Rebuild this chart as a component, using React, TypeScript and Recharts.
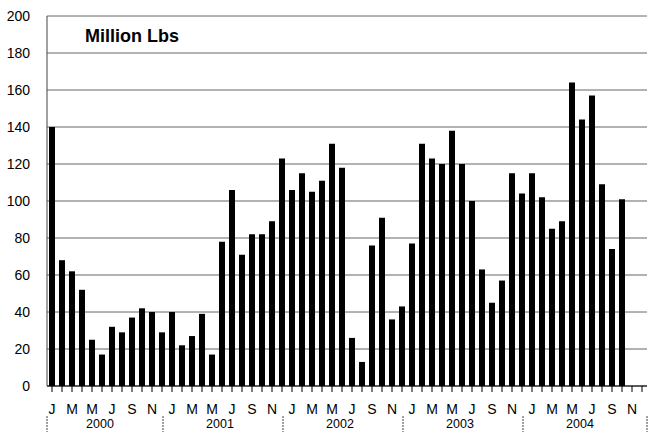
import { BarChart, Bar, XAxis, YAxis, CartesianGrid } from "recharts";

const YEARS = ["2000", "2001", "2002", "2003", "2004"];
const MONTHS = ["J", "F", "M", "A", "M", "J", "J", "A", "S", "O", "N", "D"];

// Million lbs per month, Jan..Dec
const V2000 = [140, 68, 62, 52, 25, 17, 32, 29, 37, 42, 40, 29];
const V2001 = [40, 22, 27, 39, 17, 78, 106, 71, 82, 82, 89, 123];
const V2002 = [106, 115, 105, 111, 131, 118, 26, 13, 76, 91, 36, 43];
const V2003 = [77, 131, 123, 120, 138, 120, 100, 63, 45, 57, 115, 104];
const V2004 = [115, 102, 85, 89, 164, 144, 157, 109, 74, 101, null, null];

const Y_TICKS = [0, 20, 40, 60, 80, 100, 120, 140, 160, 180, 200];

const SERIES = [V2000, V2001, V2002, V2003, V2004];

const data = YEARS.flatMap((yr, yi) =>
  MONTHS.map((m, mi) => ({
    key: `${yr}-${mi + 1}`,
    month: m,
    year: yr,
    value: SERIES[yi][mi],
  }))
);

const FONT = "'Liberation Sans', Arial, sans-serif";

const YearTick = (props: any) => {
  const { x, y, index } = props;
  if (index % 12 !== 0) return <g />;
  const yi = index / 12;
  const sep = yi === 0 ? x - 5 : x - 9;
  return (
    <g>
      <line x1={sep} x2={sep} y1={y + 6} y2={y + 22} stroke="#444" strokeDasharray="2 1" />
      {yi === YEARS.length - 1 && (
        <line x1={x + 115} x2={x + 115} y1={y + 6} y2={y + 22} stroke="#444" strokeDasharray="2 1" />
      )}
      <text x={x + 48} y={y + 18} textAnchor="middle" fontSize={12.5} fontFamily={FONT} fill="#000">
        {YEARS[yi]}
      </text>
    </g>
  );
};

export default function App() {
  return (
    <div style={{ position: "absolute", left: 0, top: 0, width: 649, height: 432, background: "#fff" }}>
      <BarChart width={649} height={432} data={data} margin={{ top: 16, right: 2, bottom: 0, left: 0 }} barSize={6}>
        <CartesianGrid vertical={false} stroke="#666" />
        <XAxis
          dataKey="key"
          interval={0}
          height={24}
          tickSize={6}
          tickMargin={12}
          tickLine={{ stroke: "#000" }}
          axisLine={{ stroke: "#000" }}
          tickFormatter={(_v: string, i: number) => (i % 2 === 0 ? data[i].month : "")}
          tick={{ fontSize: 14, fontFamily: FONT, fill: "#000" }}
        />
        <XAxis
          xAxisId="yr"
          dataKey="key"
          interval={0}
          height={22}
          tickSize={0}
          tickMargin={0}
          tickLine={false}
          axisLine={false}
          tick={<YearTick />}
        />
        <YAxis
          width={47}
          domain={[0, 200]}
          ticks={Y_TICKS}
          interval={0}
          tickSize={5}
          tickMargin={12}
          tickLine={false}
          axisLine={{ stroke: "#444" }}
          tick={{ fontSize: 14, fontFamily: FONT, fill: "#000" }}
        />
        <Bar dataKey="value" fill="#000" isAnimationActive={false} />
      </BarChart>
      <div
        style={{
          position: "absolute",
          left: 85,
          top: 27,
          fontFamily: FONT,
          fontWeight: "bold",
          fontSize: 18,
          lineHeight: 1,
          color: "#000",
          whiteSpace: "nowrap",
        }}
      >
        Million Lbs
      </div>
    </div>
  );
}
